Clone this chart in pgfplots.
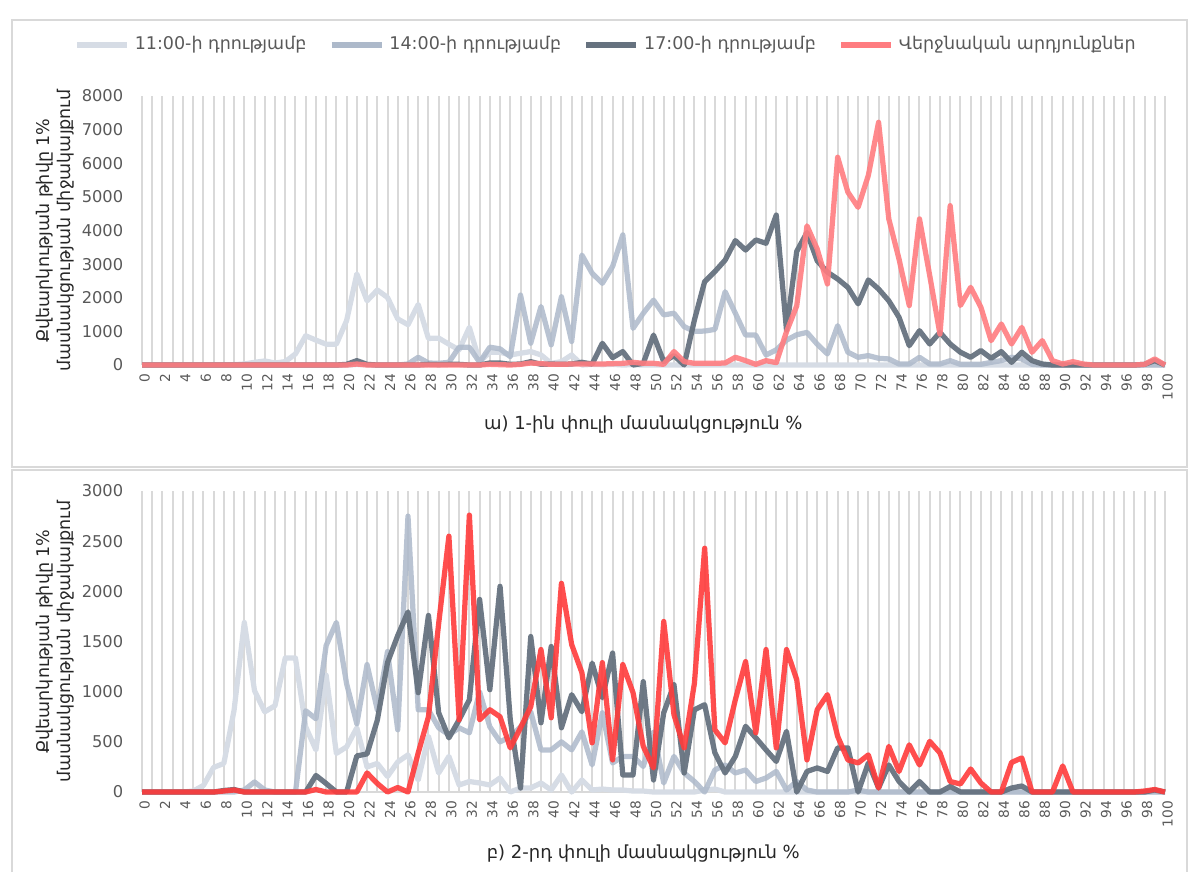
\documentclass[border=0pt]{standalone}
\usepackage{fontspec}
\setmainfont{DejaVu Sans}
\usepackage{pgfplots}
\usepackage{pgfplotstable}
\pgfplotsset{compat=1.18}

\definecolor{cA}{HTML}{D6DCE5}
\definecolor{cB}{HTML}{ADB9CA}
\definecolor{cC}{HTML}{66727F}
\definecolor{cD}{HTML}{FF7C80}
\definecolor{cE}{HTML}{FF3B3B}
\definecolor{gridc}{HTML}{D9D9D9}
\definecolor{tickc}{HTML}{595959}

% round 1: x, 11:00, 14:00, 17:00, final
\pgfplotstableread{
x a b c d
0 0 0 0 0
1 0 0 0 0
2 0 0 0 0
3 0 0 0 0
4 0 0 0 0
5 0 0 0 0
6 0 0 0 0
7 0 0 0 0
8 0 0 0 0
9 10 0 0 0
10 30 0 0 0
11 80 0 0 0
12 120 0 0 0
13 60 0 0 0
14 100 0 0 0
15 330 0 0 0
16 870 0 0 0
17 740 0 0 0
18 620 0 0 0
19 620 0 0 0
20 1320 0 20 0
21 2710 20 130 30
22 1910 10 20 0
23 2230 0 0 0
24 2010 0 0 0
25 1370 0 0 0
26 1200 30 0 0
27 1800 230 0 0
28 790 60 20 0
29 800 50 10 0
30 620 80 20 0
31 450 530 20 0
32 1120 530 0 0
33 100 80 0 0
34 380 530 60 20
35 380 480 60 10
36 300 250 20 0
37 350 2080 30 20
38 400 650 100 60
39 300 1740 20 40
40 50 600 30 20
41 100 2030 20 20
42 300 700 30 30
43 0 3270 80 30
44 20 2730 30 30
45 10 2430 645 30
46 20 2930 220 40
47 0 3870 400 50
48 10 1090 0 80
49 0 1540 50 50
50 0 1930 890 50
51 0 1490 100 20
52 0 1540 280 400
53 0 1140 0 100
54 0 1000 1340 50
55 0 1010 2480 50
56 0 1060 2780 50
57 0 2180 3120 60
58 0 1540 3700 230
59 0 890 3420 130
60 0 890 3720 20
61 0 300 3620 130
62 0 450 4460 70
63 0 740 1040 990
64 0 900 3380 1760
65 0 970 3940 4140
66 0 620 3100 3450
67 0 330 2760 2410
68 0 1170 2560 6180
69 0 380 2310 5140
70 0 230 1820 4690
71 0 280 2530 5640
72 0 200 2260 7220
73 0 180 1910 4345
74 0 30 1420 3150
75 0 30 575 1770
76 0 230 1020 4345
77 0 30 625 2660
78 0 30 970 920
79 0 130 625 4740
80 0 20 380 1770
81 0 20 230 2310
82 0 20 430 1720
83 0 80 200 725
84 0 130 400 1220
85 0 230 80 625
86 0 180 380 1120
87 0 20 130 380
88 0 0 30 725
89 0 0 0 130
90 0 0 0 30
91 0 0 0 100
92 0 0 0 30
93 0 0 0 0
94 0 0 0 0
95 0 0 0 0
96 0 0 0 0
97 0 0 0 0
98 0 0 20 20
99 0 0 130 180
100 0 0 0 0
}\toptab

% round 2
\pgfplotstableread{
x a b c d
0 0 0 0 0
1 0 0 0 0
2 0 0 0 0
3 0 0 0 0
4 0 0 0 0
5 10 0 0 0
6 65 0 0 0
7 245 0 0 0
8 285 0 15 10
9 815 0 25 20
10 1690 20 0 0
11 1010 100 0 0
12 800 20 0 0
13 860 0 0 0
14 1335 0 0 0
15 1335 0 0 0
16 650 810 0 0
17 420 730 165 25
18 1165 1460 85 0
19 385 1690 0 0
20 450 1080 0 0
21 640 680 360 0
22 250 1270 380 190
23 285 820 715 85
24 155 1400 1290 0
25 300 620 1560 45
26 370 2750 1795 0
27 120 820 990 390
28 555 820 1760 750
29 190 640 790 1680
30 355 570 540 2550
31 70 640 720 720
32 105 590 920 2760
33 90 1000 1920 720
34 70 650 1020 820
35 140 500 2050 750
36 0 550 720 440
37 40 650 40 640
38 40 800 1550 850
39 90 420 690 1420
40 20 420 1450 740
41 170 500 640 2080
42 0 420 970 1470
43 120 600 800 1190
44 20 270 1285 490
45 30 790 940 1290
46 20 290 1385 320
47 20 355 170 1270
48 10 355 170 990
49 10 255 1100 455
50 0 600 120 240
51 0 90 790 1700
52 0 355 1070 770
53 0 190 190 440
54 0 105 820 1085
55 20 0 870 2430
56 30 220 390 620
57 0 270 190 490
58 0 190 355 920
59 0 220 655 1300
60 0 105 540 590
61 0 140 420 1420
62 0 205 305 440
63 0 20 605 1420
64 0 105 0 1120
65 0 20 205 320
66 0 0 240 820
67 0 0 205 970
68 0 0 440 555
69 0 0 440 320
70 0 20 0 290
71 0 0 290 370
72 0 0 40 40
73 0 0 270 455
74 0 0 105 205
75 0 0 0 470
76 0 0 105 270
77 0 0 0 505
78 0 0 0 390
79 0 0 55 105
80 0 0 0 80
81 0 0 0 230
82 0 0 0 90
83 0 0 0 0
84 0 0 0 0
85 0 0 40 295
86 0 0 60 340
87 0 0 0 0
88 0 0 0 0
89 0 0 0 0
90 0 0 0 260
91 0 0 0 0
92 0 0 0 0
93 0 0 0 0
94 0 0 0 0
95 0 0 0 0
96 0 0 0 0
97 0 0 0 0
98 0 0 0 10
99 0 0 20 25
100 0 0 0 0
}\bottab

\pgfplotsset{
  panel/.style={
    scale only axis, width=409.2pt,
    xmin=0, xmax=100, ymin=0,
    clip=false,
    axis x line*=bottom, axis y line*=left,
    x axis line style={draw=gridc, line width=0.8pt, -},
    y axis line style={draw=none},
    xtick={0,2,...,100}, minor xtick={1,3,...,99},
    major tick length=0pt, minor tick length=0pt,
    xmajorgrids, xminorgrids,
    major grid style={draw=gridc, line width=0.8pt},
    minor grid style={draw=gridc, line width=0.8pt},
    xticklabel style={rotate=90, anchor=east, font=\fontsize{5.5}{6}\selectfont, text=tickc, yshift=-1pt},
    yticklabel style={font=\fontsize{6.5}{7}\selectfont, text=tickc, xshift=-4pt},
    /pgf/number format/assume math mode=true,
    /pgf/number format/1000 sep={},
    ylabel style={at={(axis description cs:-0.085,0.5)}, anchor=center, align=center,
      font=\fontsize{7}{8.5}\selectfont, text=black!85},
    xlabel style={font=\fontsize{7.2}{8}\selectfont, text=black!85, anchor=center},
  },
  s11/.style={cA, line width=2.1pt, line join=round},
  s14/.style={cB, opacity=0.85, line width=2.1pt, line join=round},
  s17/.style={cC, opacity=0.95, line width=2.1pt, line join=round},
}

\begin{document}
\begin{tikzpicture}
\useasboundingbox (0pt,0pt) rectangle (475.6pt,-348.8pt);
\draw[gridc, line width=0.8pt] (4.8pt,-8pt) rectangle (474.8pt,-186.8pt);
\draw[gridc, line width=0.8pt] (4.8pt,-348.8pt) -- (4.8pt,-188pt) -- (474.8pt,-188pt) -- (474.8pt,-348.8pt);

\begin{axis}[panel,
    at={(56.8pt,-146pt)}, anchor=south west,
    height=107.6pt, ymax=8000, ytick={0,1000,...,8000},
    xlabel={ա) 1-ին փուլի մասնակցություն \%},
    xlabel style={at={(axis description cs:0.49,-0.223)}},
    ylabel={Քվեարկության թիվը 1\%\\մասնակցության միջակայքում},
    legend columns=4,
    legend style={at={(axis description cs:0.455,1.19)}, anchor=center, draw=none,
      fill=none, font=\fontsize{7}{8}\selectfont, text=tickc,
      /tikz/every even column/.append style={column sep=7pt}},
    legend image code/.code={\draw[#1, line width=2.2pt, opacity=1] (0pt,0pt) -- (20pt,0pt);},
  ]
  \addplot[s11] table[x=x, y=a] {\toptab};
  \addlegendentry{11:00-ի դրությամբ}
  \addplot[s14] table[x=x, y=b] {\toptab};
  \addlegendentry{14:00-ի դրությամբ}
  \addplot[s17] table[x=x, y=c] {\toptab};
  \addlegendentry{17:00-ի դրությամբ}
  \addplot[cD, opacity=0.9, line width=2.1pt, line join=round] table[x=x, y=d] {\toptab};
  \addlegendentry{Վերջնական արդյունքներ}
\end{axis}

\begin{axis}[panel,
    at={(56.8pt,-316.8pt)}, anchor=south west,
    height=120.4pt, ymax=3000, ytick={0,500,...,3000},
    xlabel={բ) 2-րդ փուլի մասնակցություն \%},
    xlabel style={at={(axis description cs:0.49,-0.203)}},
    ylabel={Քվեարկության թիվը 1\%\\մասնակցության միջակայքում},
  ]
  \addplot[s11] table[x=x, y=a] {\bottab};
  \addplot[s14] table[x=x, y=b] {\bottab};
  \addplot[s17] table[x=x, y=c] {\bottab};
  \addplot[cE, opacity=0.9, line width=2.1pt, line join=round] table[x=x, y=d] {\bottab};
\end{axis}
\end{tikzpicture}
\end{document}
